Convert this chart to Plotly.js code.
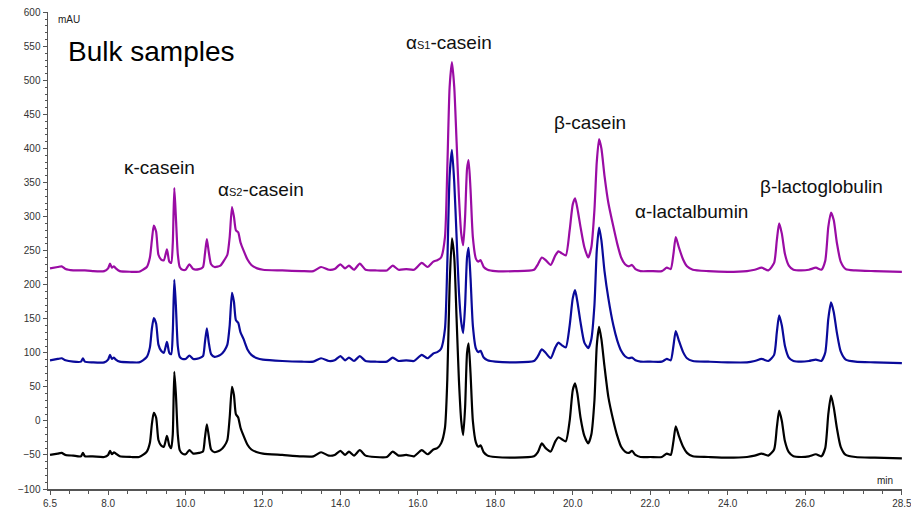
<!DOCTYPE html>
<html>
<head>
<meta charset="utf-8">
<script src="https://cdn.plot.ly/plotly-3.0.1.min.js"></script>
<style>html,body{margin:0;padding:0;background:#fff;}#chart{width:911px;height:511px;}</style>
</head>
<body>
<div id="chart"></div>
<script>
// Retention time (min)
const time = [6.5,6.7,6.8,6.9,7.1,7.3,7.35,7.4,7.6,7.9,8.0,8.05,8.1,8.15,8.2,8.3,8.6,8.8,8.9,9.0,
9.08,9.13,9.18,9.24,9.3,9.37,9.44,9.52,9.58,9.63,9.67,9.71,9.75,9.8,9.85,9.92,10.0,10.1,10.2,10.35,
10.45,10.5,10.55,10.6,10.66,10.75,10.9,11.0,11.08,11.14,11.2,11.25,11.3,11.36,11.42,11.5,11.6,11.7,11.85,12.0,
12.5,13.0,13.3,13.5,13.7,13.85,14.0,14.12,14.22,14.35,14.5,14.65,14.9,15.2,15.35,15.5,15.7,15.9,16.1,16.25,
16.4,16.5,16.6,16.7,16.76,16.82,16.88,16.94,17.0,17.06,17.12,17.17,17.22,17.27,17.31,17.36,17.42,17.5,17.56,17.62,
17.7,17.8,18.0,18.5,19.0,19.1,19.2,19.3,19.43,19.55,19.63,19.72,19.82,19.92,20.0,20.06,20.12,20.2,20.3,20.4,
20.48,20.56,20.62,20.68,20.74,20.82,20.92,21.05,21.15,21.25,21.35,21.45,21.53,21.62,21.75,22.0,22.3,22.43,22.53,22.6,
22.66,22.74,22.85,22.95,23.1,23.5,24.0,24.5,24.7,24.88,25.05,25.2,25.27,25.33,25.4,25.48,25.58,25.7,25.9,26.1,
26.28,26.42,26.52,26.6,26.67,26.74,26.82,26.92,27.05,27.3,27.8,28.5];

// Absorbance (mAU), black trace
const sampleBlack = [-50,-48,-47,-50,-51,-52,-47,-52,-52,-53,-50,-44,-49,-46,-48,-52,-53,-53,-50,-45,
-32,-5,12,5,-28,-36,-38,-22,-36,-40,-20,72,40,-20,-43,-48,-49,-43,-48,-47,
-45,-25,-5,-22,-42,-46,-43,-37,-28,5,50,38,10,5,-10,-22,-35,-42,-46,-48,
-50,-52,-52,-46,-51,-50,-44,-50,-45,-51,-43,-51,-53,-53,-45,-51,-50,-52,-43,-49,
-42,-40,-33,-10,60,200,268,240,150,60,0,-21,20,100,114,70,0,-32,-38,-36,
-46,-51,-53,-54,-52,-46,-33,-40,-45,-30,-24,-27,-30,0,45,55,40,5,-22,-33,
-20,30,110,138,120,80,35,0,-22,-38,-45,-47,-44,-50,-53,-53,-53,-48,-50,-30,
-8,-22,-38,-47,-52,-53,-54,-53,-51,-48,-51,-42,-10,15,0,-30,-46,-52,-53,-52,
-49,-52,-40,10,37,20,-10,-38,-50,-53,-54,-55];

// Absorbance (mAU), blue trace
const sampleBlue = [89,91,92,89,87,87,92,87,86,86,90,97,91,93,90,87,86,86,89,94,
108,135,151,143,112,103,100,116,100,98,130,207,170,110,94,91,91,96,91,92,
95,115,136,115,98,94,97,103,112,140,188,175,148,144,130,120,105,97,92,90,
88,87,87,92,88,89,95,89,93,88,95,88,87,87,93,88,89,88,97,92,
99,101,106,135,230,360,398,350,270,190,145,129,170,240,254,210,140,106,101,103,
93,89,87,86,88,95,105,100,92,108,115,111,108,140,180,192,175,145,115,107,
120,170,250,284,265,220,180,140,118,103,95,92,93,89,87,87,87,91,89,110,
132,118,101,92,88,87,86,86,88,91,88,97,130,155,140,110,93,88,87,88,
90,88,100,150,174,160,130,102,90,87,86,85];

// Absorbance (mAU), purple trace
const samplePurple = [224,226,227,223,221,221,221,221,220,220,224,231,225,227,224,220,219,219,222,226,
240,265,287,278,244,237,236,252,234,232,260,342,300,245,226,222,222,230,223,223,
226,245,267,248,230,226,228,236,244,270,314,300,280,277,262,250,237,229,224,222,
221,220,220,226,222,223,230,224,228,222,231,222,221,221,228,222,223,222,232,226,
234,236,240,270,370,490,527,490,410,330,275,258,300,370,383,340,270,238,234,236,
226,222,220,220,222,230,240,236,229,243,249,246,243,280,318,327,312,285,255,240,
255,310,380,414,400,360,320,285,260,240,230,227,229,223,220,220,220,225,223,245,
270,255,237,227,222,220,219,220,222,225,221,232,265,290,275,245,228,222,221,222,
225,222,235,285,306,295,262,234,223,221,220,219];

const xTickVals = [6.5,8,10,12,14,16,18,20,22,24,26,28.5];
const xTickText = ["6.5","8.0","10.0","12.0","14.0","16.0","18.0","20.0","22.0","24.0","26.0","28.5"];
const yTickVals = [-100,-50,0,50,100,150,200,250,300,350,400,450,500,550,600];

const SUB = (s) => "<span style='font-size:11px'>" + s + "</span>";
const peakLabels = ["κ-casein","α" + SUB("S2") + "-casein","α" + SUB("S1") + "-casein","β-casein","α-lactalbumin","β-lactoglobulin"];
const peakLabelX = [0.130,0.249,0.470,0.635,0.754,0.906];
const peakLabelY = [0.675,0.627,0.937,0.769,0.581,0.635];

const FONT = "Liberation Sans, Arial, sans-serif";

function trace(y, color) {
  return {x: time, y: y, type: "scatter", mode: "lines",
    line: {color: color, width: 2.2, shape: "spline", smoothing: 0.6},
    hoverinfo: "skip", showlegend: false};
}

const data = [
  trace(sampleBlack, "#000000"),
  trace(sampleBlue, "#0a0a9a"),
  trace(samplePurple, "#9a0ca4")
];

const annotations = peakLabels.map((t, i) => ({
  text: t, xref: "paper", yref: "paper", x: peakLabelX[i], y: peakLabelY[i],
  xanchor: "center", yanchor: "middle", showarrow: false,
  font: {family: FONT, size: 19, color: "#111"}
}));
annotations.push({text: "Bulk samples", xref: "paper", yref: "paper", x: 0.021, y: 0.918,
  xanchor: "left", yanchor: "middle", showarrow: false, font: {family: FONT, size: 28, color: "#000"}});
annotations.push({text: "mAU", xref: "paper", yref: "paper", x: 0.0094, y: 0.985,
  xanchor: "left", yanchor: "middle", showarrow: false, font: {family: FONT, size: 10, color: "#222"}});
annotations.push({text: "min", xref: "paper", yref: "paper", x: 0.992, y: 0.017,
  xanchor: "right", yanchor: "middle", showarrow: false, font: {family: FONT, size: 10, color: "#222"}});

const layout = {
  width: 911, height: 511,
  margin: {l: 48, r: 9, t: 12, b: 22, pad: 0},
  paper_bgcolor: "#fff", plot_bgcolor: "#fff",
  font: {family: FONT, size: 10, color: "#333"},
  showlegend: false,
  xaxis: {
    range: [6.448, 28.503], tickmode: "array", tickvals: xTickVals, ticktext: xTickText,
    ticklabeloverflow: "allow", tickangle: 0,
    showgrid: false, zeroline: false, showline: true, linecolor: "#555", linewidth: 1.5,
    ticks: "outside", ticklen: 4, tickcolor: "#555", tickfont: {size: 10, color: "#333"},
    minor: {dtick: 0.5, tick0: 0, ticks: "outside", ticklen: 3, tickcolor: "#555", showgrid: false}
  },
  yaxis: {
    range: [-100, 600.5], tickmode: "array", tickvals: yTickVals,
    showgrid: false, zeroline: false, showline: true, linecolor: "#555", linewidth: 1.5,
    ticks: "outside", ticklen: 4, tickcolor: "#555", tickfont: {size: 10, color: "#333"},
    minor: {dtick: 10, tick0: 0, ticks: "outside", ticklen: 2, tickcolor: "#555", showgrid: false}
  },
  annotations: annotations
};

Plotly.newPlot("chart", data, layout, {displayModeBar: false, staticPlot: true});
</script>
</body>
</html>
